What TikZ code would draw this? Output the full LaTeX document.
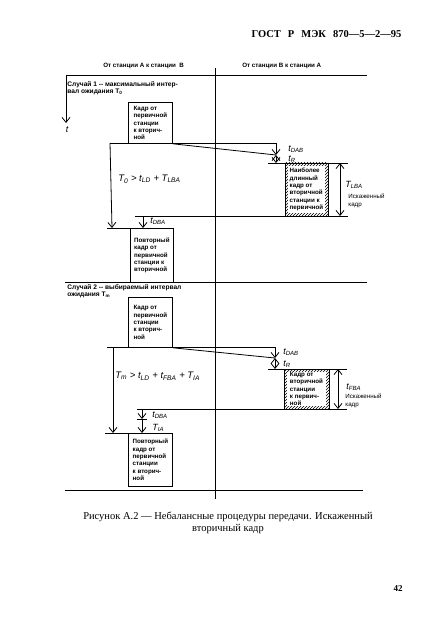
\documentclass[tikz,border=0pt]{standalone}
\usepackage{fontspec}
\setmainfont{Liberation Serif}
\newfontfamily\diafont{Liberation Sans}
\usetikzlibrary{patterns}
\usetikzlibrary{positioning}
\usetikzlibrary{arrows.meta}

\tikzset{
  frame/.style={draw, inner sep=1.5pt, anchor=north west, align=left,
    font=\diafont\bfseries\fontsize{6.2}{7.3}\selectfont},
  small/.style={inner sep=0pt, align=left, font=\diafont\bfseries\fontsize{6.6}{7}\selectfont},
  lbl/.style={inner sep=0pt, anchor=west, font=\diafont\itshape\fontsize{9}{9}\selectfont},
  note/.style={inner sep=0pt, anchor=west, align=left, font=\diafont\fontsize{6.2}{8}\selectfont},
}
\newcommand{\tsub}[2]{#1\textsubscript{#2}}

\begin{document}
\begin{tikzpicture}[x=1pt, y=-1pt, line width=0.8pt, >={Straight Barb[length=5pt,width=8pt,line width=0.8pt]}]
  \useasboundingbox (0,0) rectangle (422,617);

  \node[anchor=east, font=\bfseries\fontsize{10.5}{12}\selectfont] (gost) at (405,34) {ГОСТ\hspace{7pt}Р\hspace{7pt}МЭК\hspace{7pt}870—5—2—95};

  \node[small, anchor=west, font=\diafont\bfseries\fontsize{6.2}{7}\selectfont] (fromA) at (103,66) {От станции А к станции\ \ В};
  \node[small, anchor=west, font=\diafont\bfseries\fontsize{6.2}{7}\selectfont] (fromB) at (242,66) {От станции В к станции А};

  \coordinate (topleft) at (66,75);
  \coordinate (topright) at (367,75);
  \coordinate (midtop) at (215,68);
  \coordinate (midbot) at (215,499);
  \draw (topleft) -- (topright);
  \draw (midtop) -- (midbot);
  \draw[->] (topleft) -- (66,123) coordinate (taxis);
  \node[lbl, anchor=north] (t) at (67,126) {t};

  % case 1
  \node[small, anchor=north west] (case1) at (67,81) {Случай 1 -- максимальный интер-\\вал ожидания \tsub{T}{0}};
  \node[frame, minimum width=44pt, minimum height=41pt] (first1) at (128,102) {Кадр от\\первичной\\станции\\к вторич-\\ной};

  \coordinate (send1) at (110,143);
  \coordinate (dab1) at (276,143);
  \coordinate (r1) at (276,155);
  \coordinate (rend1) at (276,163);
  \draw (send1) -- (dab1);
  \draw (first1.south east) -- (r1);
  \draw[->] (dab1) -- (r1);
  \draw[<->] (r1) -- (rend1);
  \node[lbl] (tdab1) at (288,149) {\tsub{t}{DAB}};
  \node[lbl] (tr1) at (288,159) {\tsub{t}{R}};

  \fill[pattern=north east lines] (285,163) rectangle (328,216);
  \fill[white] (288,166) rectangle (325,213);
  \draw (285,163) rectangle (328,216);
  \node[frame, draw=none, anchor=center] (long1) at (306.5,189.5) {Наиболее\\длинный\\кадр от\\вторичной\\станции к\\первичной};

  \draw (268,163) -- (348,163);
  \draw (135,216) -- (348,216);
  \draw[<->] (340,163) -- (340,216);
  \node[lbl] (tlba) at (345,185) {\tsub{T}{LBA}};
  \node[note, anchor=north west] (bad1) at (348,193) {Искаженный\\кадр};

  \draw[->] (send1) -- (112,228) coordinate (rep1);
  \node[lbl, font=\diafont\itshape\fontsize{9.5}{10}\selectfont] (cond1) at (118,179) {\tsub{T}{0} > \tsub{t}{LD} + \tsub{T}{LBA}};
  \draw[->] (143,216) -- (143,228);
  \node[lbl] (tdba1) at (150,221) {\tsub{t}{DBA}};
  \draw (107,228) -- (130,228);
  \node[frame, minimum width=43pt, minimum height=54pt] (again1) at (130,228) {Повторный\\кадр от\\первичной\\станции к\\вторичной};

  \draw (65,282) -- (367,282);

  % case 2
  \node[small, anchor=north west] (case2) at (67,284) {Случай 2 -- выбираемый интервал\\ожидания \tsub{T}{m}};
  \node[frame, minimum width=44pt, minimum height=50pt] (first2) at (128,297) {Кадр от\\первичной\\станции\\к вторич-\\ной};

  \coordinate (send2) at (107,347);
  \coordinate (dab2) at (275,347);
  \coordinate (r2) at (275,358);
  \coordinate (rend2) at (275,369);
  \draw (send2) -- (dab2);
  \draw (first2.south east) -- (r2);
  \draw[->] (dab2) -- (r2);
  \draw[<->] (r2) -- (rend2);
  \node[lbl] (tdab2) at (283,352) {\tsub{t}{DAB}};
  \node[lbl] (tr2) at (283,364) {\tsub{t}{R}};

  \fill[pattern=north east lines] (284,369) rectangle (329,409);
  \fill[white] (287,372) rectangle (326,406);
  \draw (284,369) rectangle (329,409);
  \node[frame, draw=none, anchor=center] (long2) at (306.5,389) {Кадр от\\вторичной\\станции\\к первич-\\ной};

  \draw (268,369) -- (347,369);
  \draw (137,409) -- (347,409);
  \draw[<->] (338,369) -- (338,409);
  \node[lbl] (tfba) at (346,387) {\tsub{t}{FBA}};
  \node[note, anchor=north west] (bad2) at (345,393) {Искаженный\\кадр};

  \draw[->] (113,347) -- (113,433) coordinate (rep2);
  \node[lbl, font=\diafont\itshape\fontsize{9.5}{10}\selectfont] (cond2) at (115,376) {\tsub{T}{m} > \tsub{t}{LD} + \tsub{t}{FBA} + \tsub{T}{IA}};
  \draw[->] (142,409) -- (142,419) coordinate (ia);
  \draw (137,419) -- (147,419);
  \draw[->] (ia) -- (142,433);
  \node[lbl] (tdba2) at (152,415) {\tsub{t}{DBA}};
  \node[lbl] (tia) at (152,428) {\tsub{T}{IA}};
  \draw (105,433) -- (128,433);
  \node[frame, minimum width=44pt, minimum height=53pt] (again2) at (128,433) {Повторный\\кадр от\\первичной\\станции\\к вторич-\\ной};

  \draw (65,490) -- (363,490);

  \node[align=center, font=\fontsize{10.5}{12.5}\selectfont] (caption) at (228,523) {Рисунок А.2 — Небалансные процедуры передачи. Искаженный\\вторичный кадр};
  \node[font=\bfseries\fontsize{9}{10}\selectfont] (page) at (398,589) {42};
\end{tikzpicture}
\end{document}
